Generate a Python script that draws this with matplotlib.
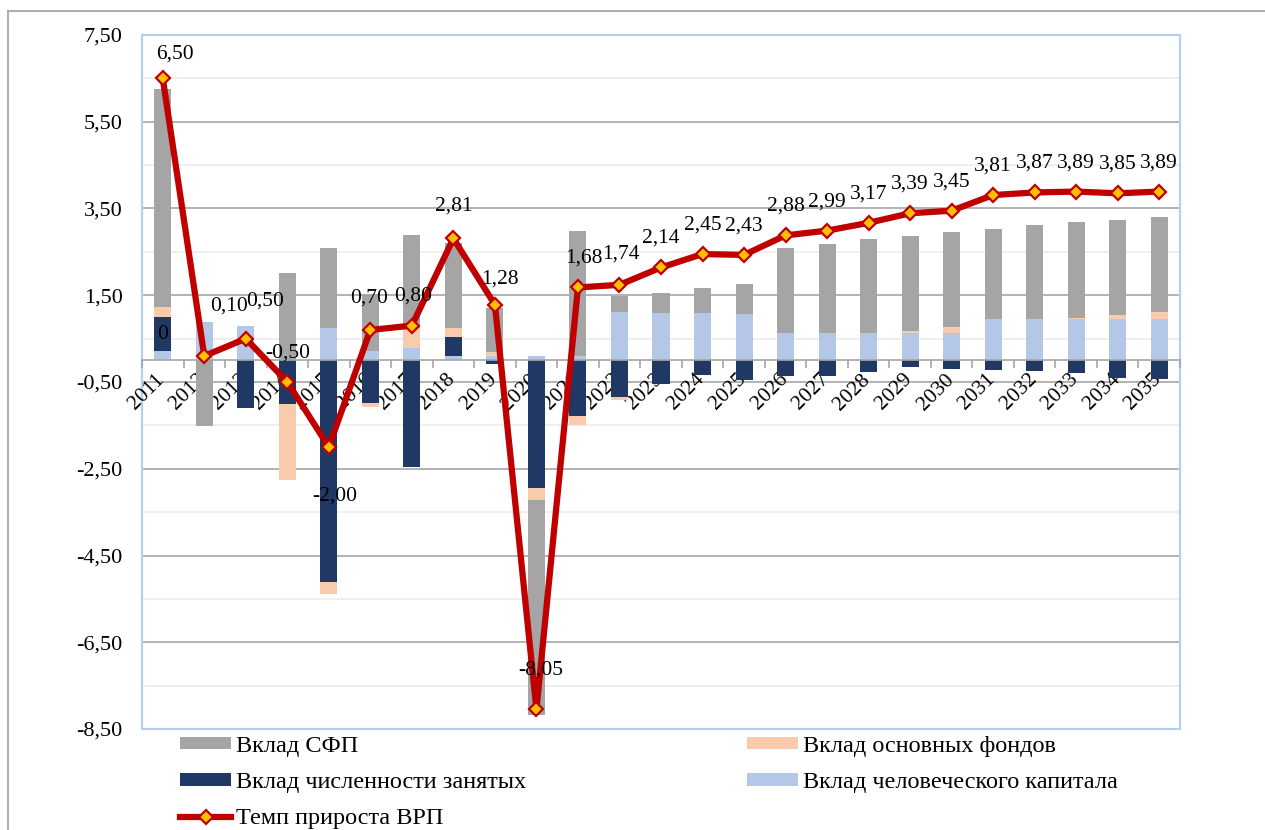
import numpy as np
import matplotlib.pyplot as plt
import matplotlib.transforms as mtrans
from matplotlib.lines import Line2D
from matplotlib.patches import Rectangle

plt.rcParams['font.family'] = ['Liberation Serif', 'DejaVu Serif']

years = [str(y) for y in range(2011, 2036)]

# contributions (п.п.)
hc = [0.21, 0.88, 0.79, 0.00, 0.75, 0.21, 0.29, 0.10, 0.10, 0.10, 0.10, 1.11, 1.10,
      1.08, 1.07, 0.64, 0.64, 0.64, 0.64, 0.64, 0.96, 0.96, 0.96, 0.96, 0.96]
emp = [0.79, 0.00, -1.09, -1.01, -5.12, -0.98, -2.46, 0.43, -0.09, -2.94, -1.28, -0.84, -0.55,
       -0.35, -0.45, -0.37, -0.37, -0.28, -0.15, -0.19, -0.23, -0.25, -0.29, -0.40, -0.42]
fa = [0.24, 0.00, 0.00, -1.74, -0.26, -0.09, 0.46, 0.22, 0.10, -0.27, -0.20, -0.08, 0.00,
      0.00, 0.00, 0.00, 0.00, 0.00, 0.04, 0.13, 0.00, 0.00, 0.02, 0.09, 0.15]
tfp = [5.02, -1.51, 0.00, 2.02, 1.83, 1.31, 2.13, 1.95, 1.00, -4.96, 2.88, 0.37, 0.45,
       0.59, 0.70, 1.94, 2.05, 2.15, 2.18, 2.19, 2.07, 2.15, 2.20, 2.19, 2.19]
grp = [6.50, 0.10, 0.50, -0.50, -2.00, 0.70, 0.80, 2.81, 1.28, -8.05, 1.68, 1.74, 2.14,
       2.45, 2.43, 2.88, 2.99, 3.17, 3.39, 3.45, 3.81, 3.87, 3.89, 3.85, 3.89]

# label offsets in pixels for the first years (others sit straight above)
label_off = {0: (12, 24), 1: (25, 50), 2: (19, 38), 3: (0, 29), 4: (6, -49), 5: (-1, 32),
             6: (1, 30), 7: (0, 32), 8: (5, 26), 9: (4, 39), 10: (6, 29), 11: (1, 31)}

series = [
    ("Вклад человеческого капитала", hc, "#b4c7e7"),
    ("Вклад численности занятых", emp, "#203864"),
    ("Вклад основных фондов", fa, "#f8cbad"),
    ("Вклад СФП", tfp, "#a5a5a5"),
]

fig = plt.figure(figsize=(12.65, 8.3), dpi=100)
ax = fig.add_axes([142 / 1265, 1 - 729 / 830, (1180 - 142) / 1265, (729 - 35) / 830])

x = np.arange(len(years))
pos = np.zeros(len(x))
neg = np.zeros(len(x))
bars = {}
for name, vals, col in series:
    v = np.array(vals)
    bottom = np.where(v >= 0, pos, neg)
    bars[name] = ax.bar(x, v, 0.41, bottom=bottom, color=col, zorder=2, label=name)
    pos += np.where(v >= 0, v, 0)
    neg += np.where(v < 0, v, 0)

line, = ax.plot(x, grp, color="#c00000", lw=4.5, marker="D", markersize=7.5,
                markerfacecolor="#ffc000", markeredgecolor="#c00000", markeredgewidth=1.6,
                zorder=4, label="Темп прироста ВРП")

for i, v in enumerate(grp):
    dx, dy = label_off.get(i, (0, 29))
    ax.annotate(f"{v:.2f}".replace(".", ","), (x[i], v), xytext=(dx, dy),
                textcoords="offset pixels", ha="center", va="center", fontsize=15.5, zorder=5)
# small label inside the 2011 employment bar
ax.text(x[0], hc[0] + emp[0] / 2, "0", ha="center", va="center", fontsize=15.5, zorder=5)

ax.set_xlim(-0.5, len(x) - 0.5)
ax.set_ylim(-8.5, 7.5)
major = np.arange(-8.5, 7.6, 2)
ax.set_yticks(major)
ax.set_yticklabels([f"{t:.2f}".replace(".", ",") for t in major], fontsize=16)
ax.tick_params(axis="y", length=0, pad=14)
for t in major:
    ax.axhline(t, color="#a6a6a6", lw=1.2, zorder=0)
for t in np.arange(-7.5, 7.5, 2):
    ax.axhline(t, color="#ececec", lw=1.2, zorder=0)

ax.spines["bottom"].set_position(("data", 0))
ax.spines["bottom"].set_color("#a6a6a6")
ax.spines["bottom"].set_linewidth(1.2)
ax.spines["bottom"].set_zorder(3)
for s in ["left", "right", "top"]:
    ax.spines[s].set_visible(False)
ax.add_patch(Rectangle((0, 0), 1, 1, transform=ax.transAxes, fill=False,
                       edgecolor="#b4cff2", lw=1.6, clip_on=False, zorder=1))

ax.set_xticks(np.arange(-0.5, len(x), 1))
ax.set_xticklabels([])
ax.tick_params(axis="x", which="major", length=6, color="#a6a6a6", width=1.2)
ax.set_xticks(x, minor=True)
ax.set_xticklabels(years, minor=True, rotation=45, ha="right", fontsize=15.5)
ax.tick_params(axis="x", which="minor", length=0, pad=7)
for lab in ax.get_xticklabels(minor=True):
    lab.set_transform(lab.get_transform() + mtrans.ScaledTranslation(6 / 100, 0, fig.dpi_scale_trans))

# outer frame
fig.add_artist(Line2D([8 / 1265, 1.0], [1 - 11 / 830] * 2, transform=fig.transFigure,
                      color="#a0a0a0", lw=1.2))
fig.add_artist(Line2D([8 / 1265] * 2, [0, 1 - 11 / 830], transform=fig.transFigure,
                      color="#a0a0a0", lw=1.2))

handles = [bars["Вклад СФП"], bars["Вклад численности занятых"], line,
           bars["Вклад основных фондов"], bars["Вклад человеческого капитала"]]
labels = ["Вклад СФП", "Вклад численности занятых", "Темп прироста ВРП",
          "Вклад основных фондов", "Вклад человеческого капитала"]
fig.legend(handles, labels, loc="upper left", bbox_to_anchor=(180 / 1265, 1 - 736 / 830),
           ncol=2, frameon=False, fontsize=17.5, handlelength=2.1, handleheight=0.4,
           handletextpad=0.2, columnspacing=9.1, labelspacing=0.62, borderpad=0,
           borderaxespad=0, numpoints=1)

fig.savefig("out.png", dpi=100)
